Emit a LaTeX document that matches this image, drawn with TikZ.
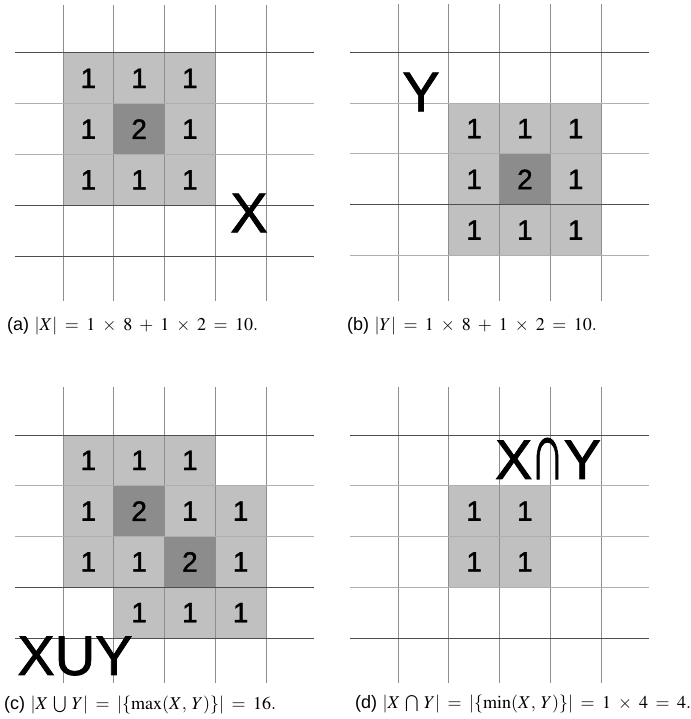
\documentclass[tikz,border=0pt]{standalone}
\usepackage{mathptmx}
\usepackage[no-math]{fontspec}
\newfontfamily\arialf{Liberation Sans}[FakeBold=1.3]
\newfontfamily\capfont{Liberation Sans}
\newcommand\capmath[1]{$\thinmuskip=5mu\relax\medmuskip=7mu\relax\thickmuskip=7.5mu\relax #1$}
\definecolor{cellgray}{HTML}{C0C0C0}
\definecolor{darkcell}{HTML}{8C8C8C}
\definecolor{gridvert}{HTML}{8E8E8E}
\definecolor{griddark}{HTML}{4E4E4E}
\definecolor{gridlight}{HTML}{AEAEAE}
\tikzset{
  vline/.style={draw=gridvert, line width=1pt},
  hline/.style={line width=1pt},
  lightcell/.style={fill=cellgray},
  heavycell/.style={fill=darkcell},
  digit/.style={inner sep=0pt, font=\arialf\fontsize{28}{30}\selectfont},
  setlabel/.style={inner sep=0pt, font=\arialf\fontsize{56}{60}\selectfont},
  caption/.style={inner sep=0pt, anchor=base west, font=\fontsize{18}{21}\selectfont},
}
\newcommand\mygrid[7]{%
  \foreach \i in {0,...,4}
    \draw[vline] ({#1+\i*50.75},{#2-48}) -- ({#1+\i*50.75},{#2+4*50.75+45});
  \draw[hline,draw=#3] ({#1-48},{#2+0*50.75}) -- ({#1+4*50.75+48},{#2+0*50.75});
  \draw[hline,draw=#4] ({#1-48},{#2+1*50.75}) -- ({#1+4*50.75+48},{#2+1*50.75});
  \draw[hline,draw=#5] ({#1-48},{#2+2*50.75}) -- ({#1+4*50.75+48},{#2+2*50.75});
  \draw[hline,draw=#6] ({#1-48},{#2+3*50.75}) -- ({#1+4*50.75+48},{#2+3*50.75});
  \draw[hline,draw=#7] ({#1-48},{#2+4*50.75}) -- ({#1+4*50.75+48},{#2+4*50.75});
}
% #1 panel name, #2 ox, #3 oy, #4 col, #5 row, #6 style, #7 text
\newcommand\mycell[7]{%
  \fill[#6] ({#2+#4*50.75},{#3+#5*50.75}) rectangle +(50.75,50.75);
  \node[digit] (#1-#4-#5) at ({#2+(#4+0.5)*50.75},{#3+(#5+0.5)*50.75}) {#7};
}
\begin{document}
\begin{tikzpicture}[x=1pt,y=-1pt]
\useasboundingbox (0,0) rectangle (690,719);
\fill[white] (0,0) rectangle (690,719);
% ---------- panel (a)
\foreach \c/\r/\t/\st in {0/0/1/lightcell,1/0/1/lightcell,2/0/1/lightcell,
  0/1/1/lightcell,1/1/2/heavycell,2/1/1/lightcell,
  0/2/1/lightcell,1/2/1/lightcell,2/2/1/lightcell}
  {\mycell{a}{63}{53}{\c}{\r}{\st}{\t}}
\mygrid{63}{53}{griddark}{gridlight}{gridlight}{griddark}{griddark}
\node[setlabel] (labX) at (249,213) {X};
\node[caption] (capa) at (7,330) {{\capfont(a)} \capmath{|X| = 1\times 8 + 1\times 2 = 10.}};
% ---------- panel (b)
\foreach \c/\r/\t/\st in {1/1/1/lightcell,2/1/1/lightcell,3/1/1/lightcell,
  1/2/1/lightcell,2/2/2/heavycell,3/2/1/lightcell,
  1/3/1/lightcell,2/3/1/lightcell,3/3/1/lightcell}
  {\mycell{b}{398}{52.5}{\c}{\r}{\st}{\t}}
\mygrid{398}{52.5}{griddark}{gridlight}{gridlight}{griddark}{gridlight}
\node[setlabel] (labY) at (421,92) {Y};
\node[caption] (capb) at (347,330) {{\capfont(b)} \capmath{|Y| = 1\times 8 + 1\times 2 = 10.}};
% ---------- panel (c)
\foreach \c/\r/\t/\st in {0/0/1/lightcell,1/0/1/lightcell,2/0/1/lightcell,
  0/1/1/lightcell,1/1/2/heavycell,2/1/1/lightcell,3/1/1/lightcell,
  0/2/1/lightcell,1/2/1/lightcell,2/2/2/heavycell,3/2/1/lightcell,
  1/3/1/lightcell,2/3/1/lightcell,3/3/1/lightcell}
  {\mycell{c}{63}{435}{\c}{\r}{\st}{\t}}
\mygrid{63}{435}{griddark}{gridlight}{gridlight}{griddark}{griddark}
\node[setlabel] (labXUY) at (75,656) {XUY};
\node[caption] (capc) at (4,709) {{\capfont(c)} \capmath{|X\bigcup Y| = |\{\max(X,Y)\}| = 16.}};
% ---------- panel (d)
\foreach \c/\r/\t/\st in {1/1/1/lightcell,2/1/1/lightcell,
  1/2/1/lightcell,2/2/1/lightcell}
  {\mycell{d}{398}{435}{\c}{\r}{\st}{\t}}
\mygrid{398}{435}{griddark}{gridlight}{gridlight}{gridlight}{griddark}
\node[setlabel] (labXnY) at (548,458.5) {X\kern-2pt\scalebox{0.85}[1.45]{∩}\kern-1pt Y};
\node[caption] (capd) at (355,708) {{\capfont(d)} \capmath{|X\bigcap Y| = |\{\min(X,Y)\}| = 1\times 4 = 4.}};
\end{tikzpicture}
\end{document}
